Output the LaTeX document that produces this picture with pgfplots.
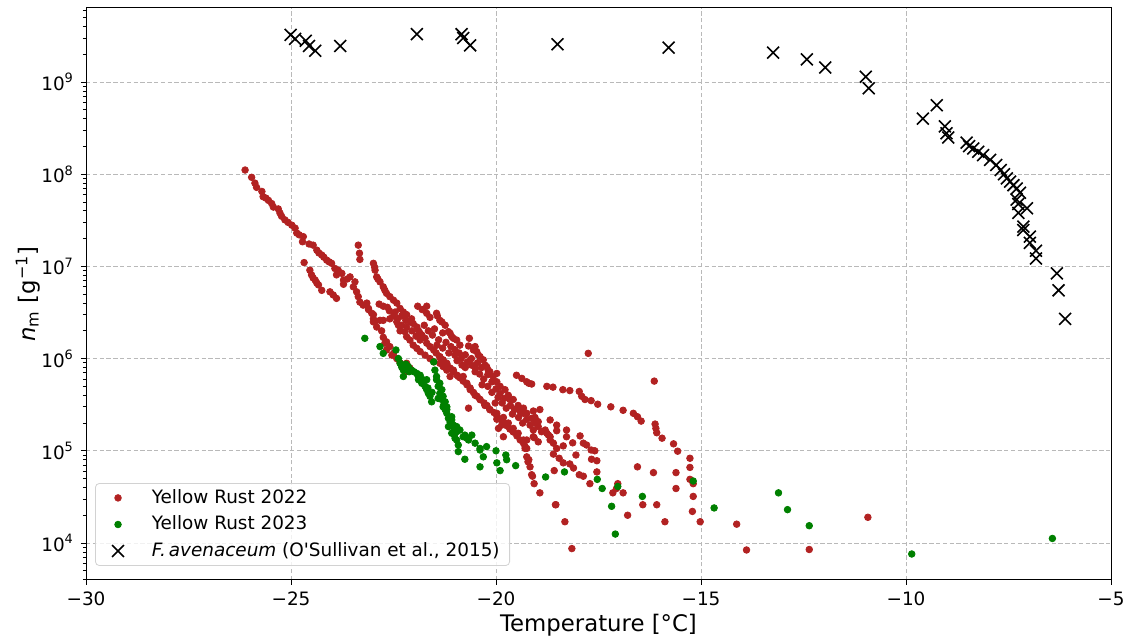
\documentclass[border=0pt]{standalone}
\usepackage{pgfplots}
\pgfplotsset{compat=1.18}
\usepackage{pgfplotstable}
\usepackage{fontspec}
\setmainfont{DejaVu Sans}
\definecolor{firebrick}{HTML}{B22222}
\definecolor{mplgreen}{HTML}{008000}

\pgfplotstableread{
x y
-26.12 1.11e8
-25.96 9.25e7
-25.88 8.0e7
-25.84 7.2e7
-25.71 6.5e7
-25.68 5.7e7
-25.61 5.5e7
-25.55 5.2e7
-25.47 4.8e7
-25.43 4.4e7
-25.31 4.2e7
-25.27 3.8e7
-25.23 3.5e7
-25.15 3.2e7
-25.07 3.0e7
-24.98 2.8e7
-24.90 2.6e7
-24.86 2.3e7
-24.80 2.2e7
-24.70 2.1e7
-24.72 1.85e7
-24.56 1.75e7
-24.46 1.7e7
-24.37 1.5e7
-24.32 1.4e7
-24.25 1.33e7
-24.20 1.26e7
-24.13 1.17e7
-24.07 1.12e7
-24.01 1.08e7
-23.93 9.5e6
-23.89 8.1e6
-23.85 9.1e6
-23.76 8.4e6
-23.72 7.1e6
-23.72 6.4e6
-23.63 7.3e6
-23.56 7.7e6
-23.44 6.8e6
-23.48 6.0e6
-23.40 5.3e6
-23.36 4.7e6
-23.32 4.1e6
-23.24 3.8e6
-23.15 4.0e6
-23.11 3.5e6
-23.03 3.1e6
-22.99 2.7e6
-22.95 2.5e6
-22.91 2.2e6
-22.83 2.6e6
-22.79 2.0e6
-22.75 1.7e6
-22.71 1.47e6
-22.67 1.24e6
-22.54 1.09e6
-24.68 1.1e7
-24.54 9.1e6
-24.50 8.1e6
-24.46 7.5e6
-24.41 7.1e6
-24.37 6.6e6
-24.33 6.3e6
-24.25 5.5e6
-24.05 5.3e6
-23.97 4.9e6
-23.89 4.5e6
-23.36 1.7e7
-23.33 1.39e7
-23.32 1.19e7
-22.99 1.08e7
-22.96 9.8e6
-22.95 9.1e6
-22.91 7.7e6
-22.88 7.3e6
-22.83 6.8e6
-22.75 6.0e6
-22.71 5.5e6
-22.67 5.1e6
-22.59 4.7e6
-22.50 4.3e6
-22.42 4.0e6
-22.34 3.5e6
-22.26 3.2e6
-22.18 3.0e6
-22.06 2.7e6
-22.02 2.4e6
-21.93 2.2e6
-21.89 2.0e6
-21.81 1.8e6
-21.73 1.66e6
-21.69 1.47e6
-21.61 1.35e6
-21.52 1.24e6
-21.46 1.15e6
-21.37 1.04e6
-21.29 9.7e5
-21.20 8.7e5
-21.12 7.9e5
-21.04 7.2e5
-20.95 6.6e5
-20.88 6.2e5
-20.80 5.7e5
-20.71 5.2e5
-20.63 4.8e5
-20.55 4.3e5
-20.46 3.9e5
-20.39 3.6e5
-20.29 3.3e5
-20.22 3.1e5
-20.15 2.8e5
-20.05 2.6e5
-19.98 2.4e5
-19.90 2.2e5
-19.82 2.05e5
-19.73 1.86e5
-19.66 1.72e5
-19.58 1.6e5
-19.49 1.45e5
-19.41 1.31e5
-19.33 1.21e5
-19.29 1.06e5
-19.25 8.6e4
-19.22 7.6e4
-19.17 6.7e4
-19.13 5.5e4
-19.07 4.4e4
-18.93 3.5e4
-18.54 2.6e4
-18.32 1.7e4
-21.91 3.7e6
-21.69 3.7e6
-21.80 3.4e6
-21.69 3.1e6
-21.61 2.8e6
-21.45 3.1e6
-21.43 2.9e6
-21.37 2.6e6
-21.32 2.5e6
-21.24 2.3e6
-21.16 1.96e6
-21.12 1.88e6
-21.08 1.73e6
-21.04 1.66e6
-20.96 1.59e6
-20.88 1.4e6
-20.65 1.66e6
-20.67 1.37e6
-20.55 1.24e6
-20.51 1.35e6
-20.47 1.19e6
-20.43 1.09e6
-20.39 1.05e6
-20.31 9.7e5
-20.27 8.5e5
-20.23 8.2e5
-20.19 7.5e5
-20.15 7.2e5
-20.07 6.4e5
-19.98 6.9e5
-19.98 5.6e5
-19.90 5.0e5
-19.78 4.6e5
-19.70 4.0e5
-19.58 3.6e5
-19.46 3.1e5
-19.33 2.9e5
-19.25 2.55e5
-19.13 2.25e5
-19.05 2.0e5
-18.97 1.83e5
-18.89 1.61e5
-18.76 1.55e5
-18.68 1.42e5
-18.60 1.21e5
-18.52 1.06e5
-18.60 9.2e4
-18.46 8.3e4
-18.36 7.4e4
-18.20 7.2e4
-18.11 6.5e4
-17.97 5.5e4
-17.87 5.3e4
-17.71 4.4e4
-22.38 2.3e6
-22.34 2.0e6
-22.22 1.96e6
-22.18 1.73e6
-22.10 1.59e6
-22.02 1.4e6
-21.93 1.29e6
-21.85 1.19e6
-21.73 1.09e6
-21.61 1.0e6
-21.52 9.25e5
-21.37 8.9e5
-21.29 8.2e5
-21.20 7.5e5
-21.12 6.4e5
-20.92 6.4e5
-20.80 6.4e5
-20.71 5.4e5
-20.63 4.6e5
-20.51 4.0e5
-20.39 3.6e5
-20.27 3.1e5
-20.15 2.8e5
-19.98 2.55e5
-19.98 2.2e5
-19.82 2.3e5
-19.70 2.0e5
-19.58 1.75e5
-19.46 1.55e5
-19.33 1.31e5
-19.29 1.11e5
-20.67 2.9e5
-19.82 1.42e5
-19.94 1.75e5
-20.02 3.3e5
-19.09 1.42e5
-18.97 1.25e5
-23.11 3.4e6
-22.99 3.0e6
-22.99 2.5e6
-22.75 2.6e6
-22.75 3.7e6
-22.59 2.7e6
-22.42 2.5e6
-22.30 2.3e6
-22.18 2.2e6
-22.67 1.52e6
-22.59 1.35e6
-22.50 1.14e6
-22.42 1.0e6
-22.34 9.0e5
-22.27 7.9e5
-22.20 7.2e5
-22.18 8.9e5
-22.10 7.9e5
-19.50 6.6e5
-19.37 6.1e5
-19.25 5.6e5
-19.13 5.3e5
-19.33 2.55e5
-19.25 2.2e5
-19.17 1.9e5
-19.09 1.68e5
-19.20 8.0e4
-19.86 1.9e5
-21.85 1.88e6
-21.37 1.05e6
-21.20 8.9e5
-21.04 7.5e5
-22.46 3.2e6
-22.10 2.5e6
-21.85 1.59e6
-21.44 1.4e6
-21.00 1.09e6
-20.83 8.5e5
-20.51 7.2e5
-20.34 5.2e5
-19.66 3.6e5
-18.93 2.8e5
-21.75 2.3e6
-21.65 2.0e6
-21.55 1.8e6
-21.50 2.1e6
-21.40 1.6e6
-21.30 1.9e6
-21.30 1.3e6
-21.22 1.5e6
-21.15 1.15e6
-21.10 1.35e6
-21.00 1.25e6
-20.95 9.5e5
-20.90 1.15e6
-20.85 1.0e6
-20.75 1.1e6
-20.75 8.0e5
-20.70 9.2e5
-20.60 8.5e5
-20.60 1.0e6
-20.50 7.8e5
-20.45 9.0e5
-20.40 6.8e5
-20.35 8.0e5
-20.30 6.0e5
-20.20 6.7e5
-20.20 5.0e5
-20.10 5.6e5
-20.10 4.3e5
-20.00 4.7e5
-19.95 3.8e5
-19.90 4.2e5
-19.85 3.3e5
-19.80 3.7e5
-19.75 2.9e5
-19.65 3.1e5
-19.60 2.5e5
-19.55 2.8e5
-19.45 2.3e5
-19.40 2.6e5
-19.35 2.0e5
-22.60 3.3e6
-22.50 2.9e6
-22.40 2.7e6
-22.30 2.9e6
-22.20 2.6e6
-22.05 2.0e6
-21.95 1.75e6
-22.85 3.9e6
-22.65 3.6e6
-19.20 5.4e5
-18.76 5.0e5
-18.61 4.9e5
-18.37 4.6e5
-18.20 4.5e5
-17.97 4.4e5
-17.91 3.9e5
-17.83 3.6e5
-17.68 3.5e5
-17.52 3.2e5
-17.20 3.0e5
-16.90 2.75e5
-16.65 2.55e5
-16.55 2.34e5
-16.46 2.1e5
-16.12 1.95e5
-16.10 1.75e5
-16.08 1.57e5
-15.95 1.37e5
-15.67 1.19e5
-15.57 9.9e4
-15.27 8.3e4
-15.27 6.6e4
-15.27 4.9e4
-15.19 4.4e4
-15.19 3.2e4
-15.21 2.2e4
-15.02 1.7e4
-16.14 5.7e5
-17.75 1.14e6
-16.16 5.8e4
-15.61 5.8e4
-15.61 3.9e4
-16.08 2.6e4
-16.42 2.6e4
-15.88 1.7e4
-16.55 6.7e4
-16.79 2.0e4
-16.90 3.5e4
-17.15 3.5e4
-17.03 4.4e4
-17.06 3.9e4
-14.13 1.6e4
-13.89 8.4e3
-12.36 8.5e3
-10.93 1.9e4
-18.15 8.7e3
-19.41 2.8e5
-19.09 2.7e5
-19.05 2.3e5
-18.97 2.07e5
-18.80 1.68e5
-18.72 1.48e5
-18.68 1.31e5
-18.68 2.16e5
-18.52 1.9e5
-18.52 1.65e5
-18.28 1.68e5
-18.28 1.42e5
-18.13 1.22e5
-17.95 1.45e5
-17.87 1.21e5
-17.79 1.155e5
-17.68 1.02e5
-17.59 1.0e5
-17.67 8.1e4
-17.54 7.8e4
-17.54 5.9e4
-18.05 9.0e4
-19.07 1.39e5
-18.36 1.13e5
-19.25 1.31e5
-19.25 1.06e5
-19.11 5.3e4
-18.58 6.1e4
-18.55 2.6e4
}\redtab

\pgfplotstableread{
x y
-23.20 1.66e6
-22.83 1.35e6
-22.75 1.14e6
-22.44 1.24e6
-22.38 1.0e6
-22.34 8.9e5
-22.30 8.1e5
-22.26 7.5e5
-22.26 6.4e5
-22.14 8.2e5
-22.06 7.5e5
-21.93 6.9e5
-21.89 5.9e5
-21.85 6.6e5
-21.81 5.4e5
-21.73 5.0e5
-21.69 5.9e5
-21.69 4.6e5
-21.65 4.2e5
-21.61 3.9e5
-21.57 3.4e5
-21.52 9.2e5
-21.49 7.5e5
-21.45 6.4e5
-21.45 5.9e5
-21.41 5.0e5
-21.37 5.4e5
-21.37 4.2e5
-21.32 4.6e5
-21.32 3.6e5
-21.29 3.9e5
-21.29 3.0e5
-21.24 3.4e5
-21.24 2.8e5
-21.20 3.0e5
-21.20 2.55e5
-21.16 2.25e5
-21.16 1.83e5
-21.12 2.25e5
-21.08 2.34e5
-21.08 2.16e5
-21.08 1.55e5
-21.04 1.9e5
-21.00 1.55e5
-21.00 1.37e5
-20.96 1.61e5
-20.96 1.83e5
-20.96 1.31e5
-20.92 1.155e5
-20.92 9.8e4
-20.88 1.68e5
-20.80 1.42e5
-20.76 1.48e5
-20.76 8.1e4
-20.71 1.37e5
-20.67 1.31e5
-20.59 1.48e5
-20.51 1.21e5
-20.39 1.06e5
-20.39 1.02e5
-20.39 6.7e4
-20.31 8.6e4
-20.23 1.11e5
-20.00 1.0e5
-19.98 7.4e4
-19.90 6.1e4
-19.76 9.0e4
-19.74 8.0e4
-19.52 6.9e4
-18.79 5.2e4
-18.33 5.9e4
-17.53 4.9e4
-17.41 3.9e4
-17.18 2.5e4
-17.09 1.25e4
-17.03 4.1e4
-16.43 3.2e4
-15.19 4.7e4
-14.68 2.4e4
-13.11 3.5e4
-12.89 2.3e4
-12.36 1.54e4
-9.86 7.6e3
-6.43 1.12e4
-21.66 4.8e5
-21.56 4.3e5
-21.41 3.7e5
-21.27 3.2e5
-21.20 2.8e5
-21.12 2.05e5
-21.02 1.68e5
-21.78 5.9e5
-21.90 6.5e5
-22.00 7.2e5
-22.20 8.7e5
-22.12 7.2e5
}\greentab

\pgfplotstableread{
x y
-25.01 3.24e9
-24.90 2.93e9
-24.64 2.8e9
-24.56 2.46e9
-24.41 2.18e9
-23.80 2.46e9
-21.93 3.3e9
-20.84 3.3e9
-20.80 3.0e9
-20.63 2.5e9
-18.50 2.56e9
-15.79 2.36e9
-13.24 2.08e9
-12.42 1.76e9
-11.97 1.44e9
-10.98 1.14e9
-10.91 8.55e8
-9.25 5.6e8
-9.59 4.0e8
-9.05 3.3e8
-9.01 2.78e8
-8.97 2.5e8
-8.52 2.2e8
-8.46 2.02e8
-8.36 1.9e8
-8.24 1.75e8
-8.12 1.61e8
-7.95 1.43e8
-7.80 1.26e8
-7.69 1.11e8
-7.61 1.0e8
-7.54 9.0e7
-7.46 8.3e7
-7.38 7.6e7
-7.30 7.0e7
-7.22 6.3e7
-7.30 5.3e7
-7.26 4.75e7
-7.05 4.27e7
-7.26 3.8e7
-7.14 2.7e7
-7.14 2.48e7
-6.98 2.1e7
-6.98 1.8e7
-6.83 1.48e7
-6.83 1.22e7
-6.32 8.4e6
-6.28 5.5e6
-6.12 2.7e6
}\crosstab

\begin{document}
\begin{tikzpicture}
\useasboundingbox (-43pt,-30.5pt) rectangle (520.5pt,290pt);
\begin{axis}[
  at={(0,0)}, anchor=south west,
  scale only axis, width=512.5pt, height=286pt,
  xmin=-30, xmax=-5, ymode=log, ymin=3.97e3, ymax=6.35e9,
  xtick={-30,-25,-20,-15,-10,-5},
  xticklabels={−30,−25,−20,−15,−10,−5},
  ytick={1e4,1e5,1e6,1e7,1e8,1e9},
  yticklabels={10\textsuperscript{4},10\textsuperscript{5},10\textsuperscript{6},10\textsuperscript{7},10\textsuperscript{8},10\textsuperscript{9}},
  minor ytick={4e3,5e3,6e3,7e3,8e3,9e3,2e4,3e4,4e4,5e4,6e4,7e4,8e4,9e4,2e5,3e5,4e5,5e5,6e5,7e5,8e5,9e5,2e6,3e6,4e6,5e6,6e6,7e6,8e6,9e6,2e7,3e7,4e7,5e7,6e7,7e7,8e7,9e7,2e8,3e8,4e8,5e8,6e8,7e8,8e8,9e8,2e9,3e9,4e9,5e9,6e9},
  tick pos=left, tick align=outside,
  major tick length=2.5pt, minor tick length=1.5pt,
  every tick/.style={black, line width=0.4pt},
  xmajorgrids, ymajorgrids,
  major grid style={gray!55, line width=0.4pt, dash pattern=on 2.2pt off 1.2pt},
  axis line style={black, line width=0.5pt},
  tick label style={font=\fontsize{9.2}{11}\selectfont},
  xlabel={Temperature [°C]},
  ylabel={{\itshape n}\textsubscript{m} [g\textsuperscript{−1}]},
  every axis x label/.style={at={(axis description cs:0.5,-0.079)}, anchor=center, font=\fontsize{11.4}{13}\selectfont},
  every axis y label/.style={at={(axis description cs:-0.0566,0.5)}, rotate=90, anchor=center, font=\fontsize{11.4}{13}\selectfont},
  legend cell align=left,
  legend image code/.code={\node[draw=none, fill=none, inner sep=0pt, minimum width=17pt, minimum height=1pt, anchor=west] at (0pt,0pt) {}; \draw[#1, /tikz/only marks, fill opacity=1, draw opacity=1] plot coordinates {(8.5pt,0pt)};},
  legend style={at={(0.0088,0.0245)}, anchor=south west, draw=gray!35,
    rounded corners=2pt, fill=white, fill opacity=0.8, text opacity=1,
    font=\fontsize{9.2}{11}\selectfont, inner xsep=3pt, inner ysep=1pt,
    row sep=0.8pt, /tikz/every odd column/.append style={column sep=6pt}},
]
\addplot[only marks, mark=*, mark size=1.65pt, draw=firebrick, fill=firebrick, mark options={draw=firebrick, fill=firebrick}] table[x=x, y=y] {\redtab};
\addlegendentry{Yellow Rust 2022}
\addplot[only marks, mark=*, mark size=1.65pt, draw=mplgreen, fill=mplgreen, mark options={draw=mplgreen, fill=mplgreen}] table[x=x, y=y] {\greentab};
\addlegendentry{Yellow Rust 2023}
\addplot[only marks, mark=x, mark size=4.2pt, black, line width=0.8pt] table[x=x, y=y] {\crosstab};
\addlegendentry{{\itshape F.\,avenaceum} (O\textquotesingle Sullivan et al., 2015)}
\end{axis}
\end{tikzpicture}
\end{document}
